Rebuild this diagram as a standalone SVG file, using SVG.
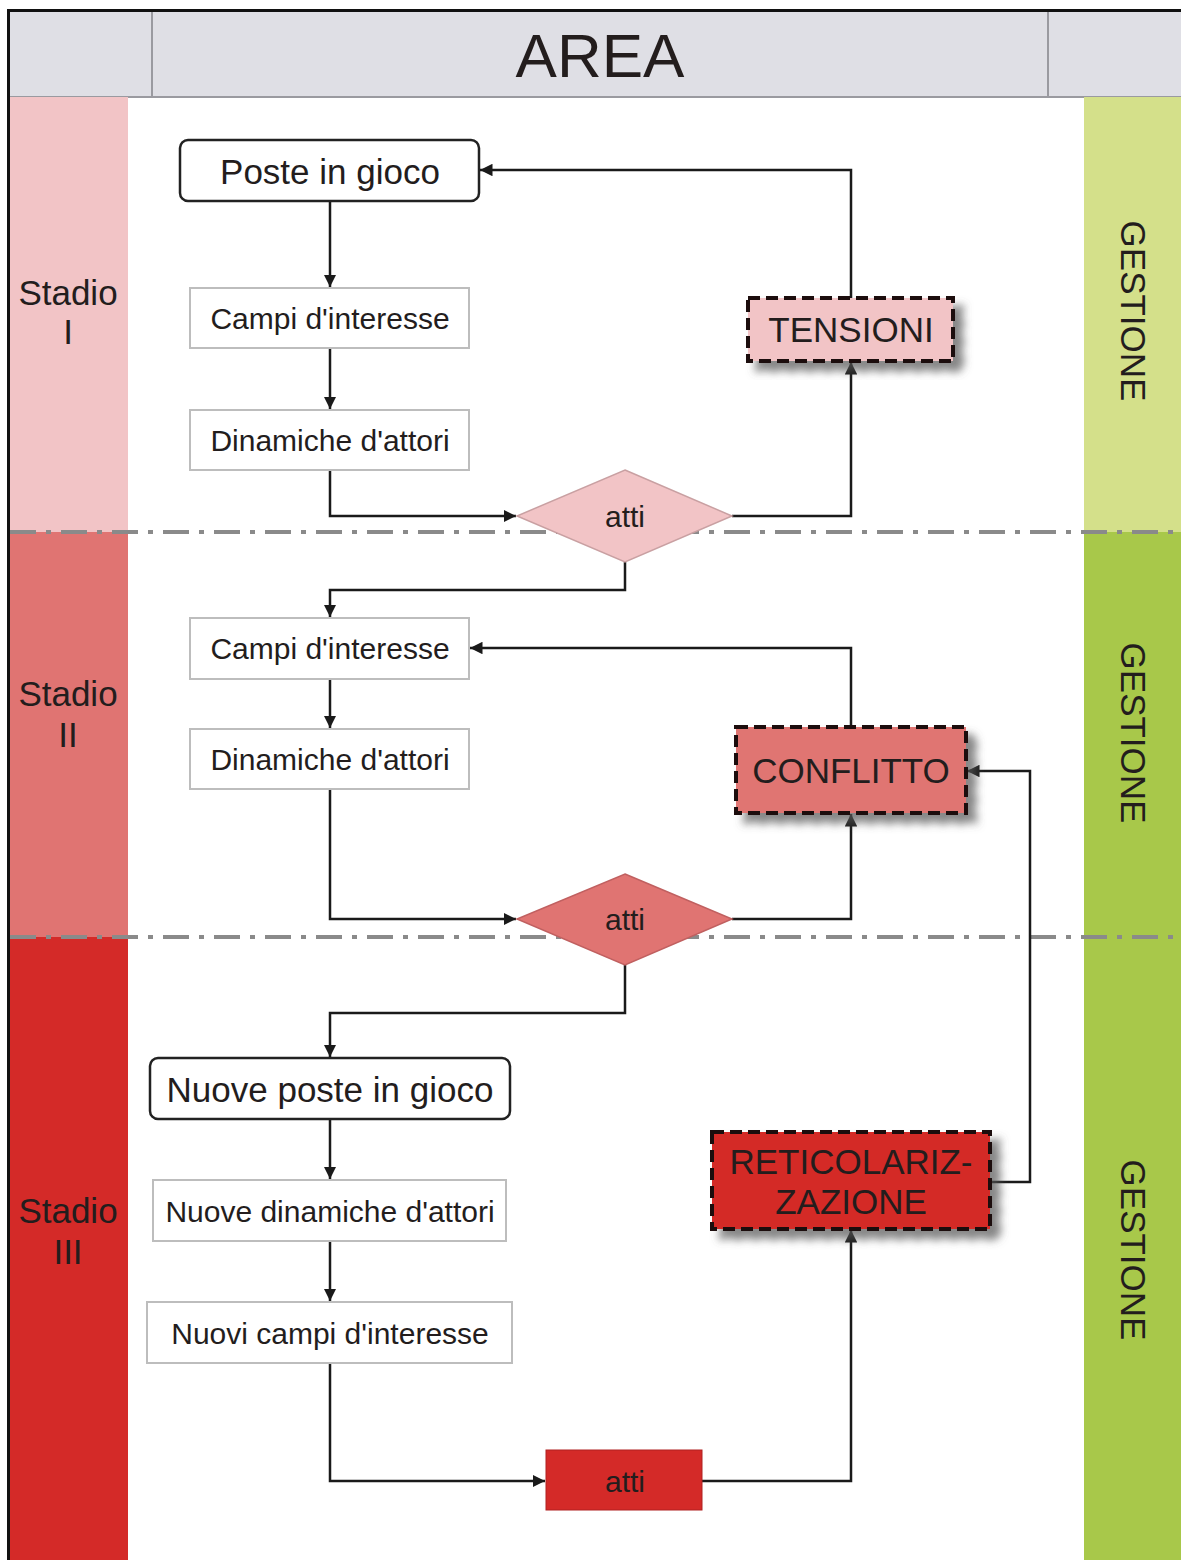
<svg xmlns="http://www.w3.org/2000/svg" width="1181" height="1560" viewBox="0 0 1181 1560">
<defs>
<style>
text{font-family:"Liberation Sans",Arial,sans-serif;fill:#231d1d}
.box{fill:#fff;stroke:#bdbdbd;stroke-width:2}
.rbox{fill:#fff;stroke:#222;stroke-width:2.5}
.dash{stroke:#1a1010;stroke-width:4;stroke-dasharray:12 6}
.conn{fill:none;stroke:#1a1a1a;stroke-width:2.5}
.sep{stroke:#8a8a8a;stroke-width:4;stroke-dasharray:26 10 5 10}
.t26{font-size:30px;text-anchor:middle}
.t31{font-size:35px;text-anchor:middle}
</style>
<marker id="ah" viewBox="0 0 10 10" refX="10" refY="5" markerWidth="5" markerHeight="5" orient="auto-start-reverse" markerUnits="strokeWidth">
<path d="M0,0 L10,5 L0,10 z" fill="#1a1a1a"/>
</marker>
<filter id="sh" x="-10%" y="-20%" width="130%" height="150%">
<feDropShadow dx="9" dy="9" stdDeviation="4" flood-color="#555" flood-opacity="0.7"/>
</filter>
</defs>
<rect x="0" y="0" width="1181" height="1560" fill="#fff"/>
<g id="header">
<rect x="8" y="10" width="1180" height="87" fill="#dfdfe5"/>
<line x1="8" y1="97" x2="1181" y2="97" stroke="#9a9aa0" stroke-width="2"/>
<line x1="152" y1="10" x2="152" y2="97" stroke="#9a9aa0" stroke-width="2"/>
<line x1="1048" y1="10" x2="1048" y2="97" stroke="#9a9aa0" stroke-width="2"/>
<text x="600" y="77" font-size="62" text-anchor="middle">AREA</text>
</g>
<g id="lanes">
<rect x="9" y="97" width="119" height="435" fill="#f2c4c6"/>
<rect x="9" y="532" width="119" height="405" fill="#e07472"/>
<rect x="9" y="937" width="119" height="623" fill="#d42a28"/>
<rect x="1084" y="97" width="97" height="435" fill="#d4e08a"/>
<rect x="1084" y="532" width="97" height="1028" fill="#a8c84a"/>
<text class="t31" x="68" y="305">Stadio</text>
<text class="t31" x="68" y="344">I</text>
<text class="t31" x="68" y="706">Stadio</text>
<text class="t31" x="68" y="747">II</text>
<text class="t31" x="68" y="1223">Stadio</text>
<text class="t31" x="68" y="1264">III</text>
<text class="t31" transform="translate(1121,311) rotate(90)">GESTIONE</text>
<text class="t31" transform="translate(1121,733) rotate(90)">GESTIONE</text>
<text class="t31" transform="translate(1121,1250) rotate(90)">GESTIONE</text>
</g>
<g id="separators">
<line class="sep" x1="10" y1="532" x2="1181" y2="532"/>
<line class="sep" x1="10" y1="937" x2="1181" y2="937"/>
</g>
<rect x="8.5" y="10.5" width="1180" height="1560" fill="none" stroke="#111" stroke-width="3"/>
<g id="connectors">
<path class="conn" d="M330,201 V287" marker-end="url(#ah)"/>
<path class="conn" d="M330,348 V409" marker-end="url(#ah)"/>
<path class="conn" d="M330,470 V516 H516" marker-end="url(#ah)"/>
<path class="conn" d="M732,516 H851 V362" marker-end="url(#ah)"/>
<path class="conn" d="M851,298 V170 H480" marker-end="url(#ah)"/>
<path class="conn" d="M625,562 V590 H330 V617" marker-end="url(#ah)"/>
<path class="conn" d="M330,679 V728" marker-end="url(#ah)"/>
<path class="conn" d="M330,789 V919 H516" marker-end="url(#ah)"/>
<path class="conn" d="M732,919 H851 V814" marker-end="url(#ah)"/>
<path class="conn" d="M851,727 V648 H470" marker-end="url(#ah)"/>
<path class="conn" d="M990,1182 H1030 V771 H967" marker-end="url(#ah)"/>
<path class="conn" d="M625,965 V1013 H330 V1057" marker-end="url(#ah)"/>
<path class="conn" d="M330,1119 V1179" marker-end="url(#ah)"/>
<path class="conn" d="M330,1241 V1301" marker-end="url(#ah)"/>
<path class="conn" d="M330,1363 V1481 H545" marker-end="url(#ah)"/>
<path class="conn" d="M702,1481 H851 V1230" marker-end="url(#ah)"/>
</g>
<g id="poste"><rect class="rbox" x="180" y="140" width="299" height="61" rx="8"/><text class="t31" x="330" y="184">Poste in gioco</text></g>
<g id="campi1"><rect class="box" x="190" y="288" width="279" height="60"/><text class="t26" x="330" y="329">Campi d'interesse</text></g>
<g id="dinamiche1"><rect class="box" x="190" y="410" width="279" height="60"/><text class="t26" x="330" y="451">Dinamiche d'attori</text></g>
<g id="atti1"><polygon points="625,470 732,516 625,562 517,516" fill="#f2c4c6" stroke="#c9a0a2" stroke-width="1.5"/><text class="t26" x="625" y="527">atti</text></g>
<g id="tensioni"><rect class="dash" x="748" y="298" width="205" height="63" fill="#f2c4c6" filter="url(#sh)"/><text class="t31" x="851" y="342">TENSIONI</text></g>
<g id="campi2"><rect class="box" x="190" y="618" width="279" height="61"/><text class="t26" x="330" y="659">Campi d'interesse</text></g>
<g id="dinamiche2"><rect class="box" x="190" y="729" width="279" height="60"/><text class="t26" x="330" y="770">Dinamiche d'attori</text></g>
<g id="atti2"><polygon points="625,874 732,919 625,965 517,919" fill="#e07472" stroke="#c06060" stroke-width="1.5"/><text class="t26" x="625" y="930">atti</text></g>
<g id="conflitto"><rect class="dash" x="736" y="727" width="230" height="86" fill="#e07472" filter="url(#sh)"/><text class="t31" x="851" y="783">CONFLITTO</text></g>
<g id="nuoveposte"><rect class="rbox" x="150" y="1058" width="360" height="61" rx="8"/><text class="t31" x="330" y="1102">Nuove poste in gioco</text></g>
<g id="nuovedinamiche"><rect class="box" x="153" y="1180" width="353" height="61"/><text class="t26" x="330" y="1222">Nuove dinamiche d'attori</text></g>
<g id="nuovicampi"><rect class="box" x="147" y="1302" width="365" height="61"/><text class="t26" x="330" y="1344">Nuovi campi d'interesse</text></g>
<g id="atti3"><rect x="546" y="1450" width="156" height="60" fill="#d42a28" stroke="#b02020" stroke-width="1"/><text class="t26" x="625" y="1492">atti</text></g>
<g id="reticolarizzazione"><rect class="dash" x="712" y="1132" width="278" height="97" fill="#d42a28" filter="url(#sh)"/><text class="t31" x="851" y="1174">RETICOLARIZ-</text><text class="t31" x="851" y="1214">ZAZIONE</text></g>
</svg>
